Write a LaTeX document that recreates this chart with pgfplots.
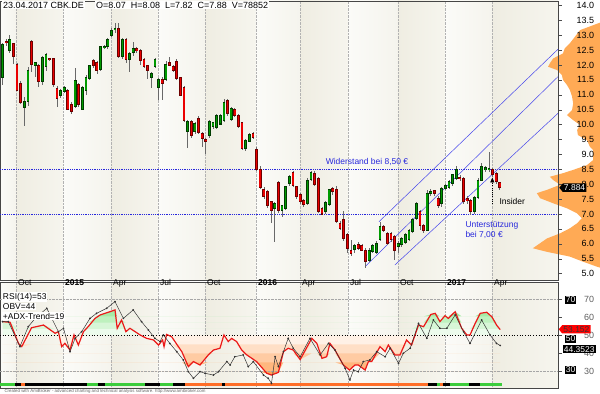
\documentclass[border=0pt]{standalone}
\usepackage{fontspec}
\setmainfont{Liberation Sans}
\usepackage{pgfplots}
\pgfplotsset{compat=1.18}
\usepackage{pgfplotstable}
\usepgfplotslibrary{fillbetween}
\usetikzlibrary{arrows.meta,shapes.symbols}

\definecolor{bandA}{RGB}{239,237,226}
\definecolor{bandAr}{RGB}{246,245,238}
\definecolor{bandB}{RGB}{251,251,248}
\definecolor{bandBr}{RGB}{245,244,237}
\definecolor{upc}{RGB}{0,155,0}
\definecolor{upo}{RGB}{0,60,0}
\definecolor{dnc}{RGB}{235,0,0}
\definecolor{dno}{RGB}{110,0,0}
\definecolor{wick}{RGB}{105,105,105}
\definecolor{chan}{RGB}{70,70,235}
\definecolor{lvl}{RGB}{40,40,220}
\definecolor{prof}{RGB}{255,170,85}
\definecolor{rsired}{RGB}{235,25,25}
\definecolor{orfill}{RGB}{255,140,50}
\definecolor{grfill}{RGB}{120,225,120}
\definecolor{adxg}{RGB}{60,205,60}
\definecolor{adxo}{RGB}{255,110,40}

\pgfplotstableread{
i O H L C
0 11.57 12.73 11.33 12.69
1 12.80 12.86 12.65 12.76
2 12.50 13.00 12.40 12.86
3 12.73 12.75 12.03 12.28
4 12.03 12.08 11.14 11.14
5 11.39 11.45 10.70 10.74
6 10.58 10.94 9.95 10.77
7 10.77 11.94 10.62 11.81
8 12.78 12.84 11.78 12.03
9 11.99 12.10 11.61 12.08
10 11.98 12.05 11.25 11.43
11 11.43 12.30 11.33 12.26
12 11.94 12.41 11.80 12.34
13 12.22 12.25 12.15 12.19
14 12.22 12.25 11.25 11.36
15 11.22 11.30 10.60 10.88
16 10.96 11.20 10.90 11.14
17 11.10 11.30 11.05 11.23
18 11.16 11.20 10.50 10.51
19 10.69 10.75 10.36 10.43
20 10.62 11.89 10.55 11.47
21 11.33 11.40 10.60 10.69
22 10.51 11.30 10.48 11.26
23 11.16 11.65 11.00 11.59
24 11.55 12.00 11.50 11.99
25 12.14 12.20 11.90 11.98
26 12.08 12.12 11.70 11.83
27 11.86 12.65 11.80 12.61
28 12.60 12.66 12.55 12.62
29 12.61 12.90 12.55 12.84
30 12.98 13.23 12.95 13.15
31 13.20 13.40 13.06 13.22
32 13.21 13.42 12.25 12.28
33 12.28 12.90 12.20 12.84
34 12.84 12.90 12.08 12.19
35 12.20 12.45 11.78 12.37
36 12.42 12.78 12.30 12.57
37 12.56 12.60 12.40 12.48
38 12.50 12.55 12.00 12.14
39 12.17 12.25 11.90 11.94
40 11.97 12.00 11.52 11.80
41 11.59 11.75 11.22 11.70
42 11.94 12.25 11.90 12.19
43 11.25 11.55 10.83 11.52
44 11.52 11.60 10.83 11.39
45 11.52 12.13 11.45 12.02
46 12.08 12.28 11.95 12.00
47 11.94 12.00 11.75 11.81
48 12.11 12.20 11.50 11.55
49 11.57 11.60 10.95 10.99
50 11.25 11.30 10.10 10.15
51 9.76 10.15 9.20 10.09
52 10.09 10.15 9.55 9.65
53 9.76 10.10 9.70 10.04
54 10.21 10.30 9.70 9.73
55 9.71 9.75 9.26 9.54
56 9.51 9.55 9.00 9.43
57 9.62 10.15 9.55 10.09
58 9.93 10.10 9.85 10.06
59 9.91 10.35 9.85 10.29
60 10.02 10.36 9.98 10.32
61 10.15 10.85 10.10 10.74
62 10.81 10.85 10.30 10.38
63 10.18 10.60 10.12 10.55
64 10.51 10.55 10.25 10.32
65 10.32 10.35 9.90 9.95
66 10.06 10.10 9.15 9.20
67 9.20 9.52 9.10 9.48
68 9.43 9.72 9.40 9.68
69 9.71 9.75 9.52 9.57
70 9.15 9.26 8.45 8.48
71 8.48 8.60 7.85 7.90
72 7.83 7.90 7.50 7.60
73 7.75 7.80 7.20 7.30
74 7.41 7.45 6.70 7.11
75 7.17 7.40 6.07 7.36
76 8.05 8.10 7.05 7.11
77 7.13 7.30 6.90 7.27
78 7.20 7.95 7.15 7.92
79 8.01 8.30 7.95 8.25
80 8.40 8.45 7.90 7.97
81 7.92 7.95 7.50 7.58
82 7.64 7.70 7.35 7.41
83 7.44 7.50 7.25 7.33
84 7.36 8.20 7.30 8.13
85 8.16 8.45 8.10 8.40
86 8.37 8.45 7.95 8.00
87 8.20 8.25 7.05 7.08
88 7.19 7.25 6.95 7.00
89 7.08 7.42 7.00 7.38
90 7.33 7.85 7.28 7.81
91 7.85 7.90 7.65 7.75
92 7.81 7.95 6.70 6.75
93 6.69 6.75 6.45 6.52
94 6.83 7.10 6.10 6.18
95 6.30 6.35 5.70 5.85
96 5.79 6.13 5.60 5.68
97 5.82 6.00 5.70 5.93
98 5.96 6.05 5.80 5.85
99 5.93 6.00 5.75 5.79
100 5.79 5.85 5.20 5.40
101 5.45 5.85 5.40 5.79
102 5.74 5.98 5.70 5.93
103 5.70 6.10 5.65 6.02
104 6.13 6.74 6.10 6.57
105 6.57 6.62 6.40 6.46
106 6.35 6.40 5.95 6.02
107 6.33 6.38 6.05 6.13
108 6.24 6.30 5.45 5.79
109 5.90 6.08 5.70 6.02
110 5.96 6.22 5.90 6.18
111 6.04 6.35 6.00 6.30
112 6.13 6.50 6.08 6.45
113 6.40 6.85 6.35 6.80
114 6.86 7.40 6.80 7.36
115 7.08 7.15 6.46 6.63
116 6.63 6.68 6.35 6.46
117 6.46 7.80 6.42 7.70
118 7.70 7.85 7.62 7.75
119 7.78 7.82 7.62 7.70
120 7.53 7.60 7.20 7.30
121 7.34 7.90 7.25 7.86
122 7.86 8.00 7.80 7.95
123 7.90 8.15 7.85 8.09
124 8.03 8.35 7.95 8.31
125 8.20 8.60 8.15 8.48
126 8.22 8.30 8.10 8.18
127 8.20 8.25 7.35 7.41
128 7.52 7.60 7.35 7.45
129 7.45 7.50 6.98 7.08
130 7.08 7.60 7.00 7.55
131 7.55 8.20 7.50 8.14
132 8.14 8.70 8.10 8.60
133 8.50 8.62 8.42 8.55
134 8.50 9.09 8.42 8.52
135 8.50 8.55 8.25 8.31
136 8.37 8.40 8.00 8.09
137 8.07 8.08 7.82 7.88
}\candles

\pgfplotstableread{
i v
0 57.6
2.1 57.2
4.4 45.5
5.3 43.7
8.0 54.2
11.3 55.7
14.5 51.1
15.4 52.0
16.3 43.7
17.2 45.5
18.6 41.8
19.7 50.2
20.9 44.6
22.3 52.0
23.6 54.8
25.5 59.4
26.9 61.3
29.6 63.1
31.0 64.1
31.6 53.9
32.8 58.5
34.0 52.0
35.1 53.9
37.9 50.2
39.7 48.3
41.6 47.4
43.0 44.6
44.1 47.4
44.5 43.7
45.2 50.5
46.6 49.2
49.4 40.9
51.2 32.6
52.6 35.4
54.4 33.5
56.7 39.1
58.1 41.8
59.9 42.8
61.0 50.2
62.2 46.5
63.1 48.3
64.5 46.5
65.9 41.8
67.3 39.1
70.0 35.4
72.8 28.9
74.1 27.9
76.0 29.4
77.4 40.9
78.7 42.8
80.1 41.8
82.0 36.5
85.2 48.3
86.6 45.5
88.0 37.2
89.3 38.1
90.2 45.5
91.6 41.8
93.9 33.5
95.6 30.7
97.1 33.5
98.0 33.5
99.9 30.7
100.8 35.4
101.7 35.4
104.0 43.7
105.4 40.9
106.3 44.6
108.1 39.1
109.5 39.1
111.3 47.4
112.7 44.6
114.6 55.7
116.0 54.8
118.0 61.6
119.2 62.2
120.5 57.6
121.9 60.9
122.8 59.4
124.7 63.1
126.5 53.9
127.9 50.2
128.8 50.2
130.2 56.6
131.6 62.2
133.4 62.8
134.8 60.3
136.1 55.7
137.1 53.15
}\rsi

\pgfplotstableread{
i v
0 57.6
1.6 57.6
4.8 43.7
7.1 54.8
9.0 59.4
12.2 65.0
15.4 52.0
16.8 53.9
18.6 40.9
20.0 48.3
21.8 52.0
24.1 59.4
25.9 62.2
28.7 65.0
31.0 68.7
33.3 59.4
36.0 64.1
38.3 57.6
40.2 52.9
42.0 48.3
43.4 46.5
44.3 50.2
46.1 45.5
48.0 40.9
49.8 36.3
51.2 29.8
52.6 26.1
54.4 29.8
55.8 28.9
58.1 27.9
59.5 29.8
61.8 35.4
62.7 33.5
64.0 38.1
66.3 39.1
67.7 32.6
69.1 35.4
71.9 27.9
73.2 26.1
74.1 23.3
75.1 38.1
76.0 32.6
77.4 40.9
78.7 48.3
80.1 42.8
82.0 38.1
84.7 48.3
87.5 39.1
89.8 45.5
91.6 41.8
94.4 31.6
95.7 25.2
96.7 30.7
98.0 29.8
99.4 35.4
101.2 36.3
103.1 40.9
105.4 38.1
106.8 42.8
109.1 34.4
110.4 40.0
112.3 42.8
114.6 56.6
116.9 48.3
118.7 58.5
120.5 53.9
122.4 53.9
124.7 61.3
127.0 52.0
128.8 45.5
132.0 58.5
134.3 50.2
136.1 45.5
137.1 44.35
}\obv

\newcommand\bands[2]{%
\fill[left color=bandB,right color=bandBr] (axis cs:-0.689,#1) rectangle (axis cs:3.72,#2);
\fill[left color=bandA,right color=bandAr] (axis cs:3.72,#1) rectangle (axis cs:16.67,#2);
\fill[left color=bandB,right color=bandBr] (axis cs:16.67,#1) rectangle (axis cs:29.89,#2);
\fill[left color=bandA,right color=bandAr] (axis cs:29.89,#1) rectangle (axis cs:42.84,#2);
\fill[left color=bandB,right color=bandBr] (axis cs:42.84,#1) rectangle (axis cs:55.79,#2);
\fill[left color=bandA,right color=bandAr] (axis cs:55.79,#1) rectangle (axis cs:69.83,#2);
\fill[left color=bandB,right color=bandBr] (axis cs:69.83,#1) rectangle (axis cs:81.96,#2);
\fill[left color=bandA,right color=bandAr] (axis cs:81.96,#1) rectangle (axis cs:95.18,#2);
\fill[left color=bandB,right color=bandBr] (axis cs:95.18,#1) rectangle (axis cs:108.95,#2);
\fill[left color=bandA,right color=bandAr] (axis cs:108.95,#1) rectangle (axis cs:121.9,#2);
\fill[left color=bandB,right color=bandBr] (axis cs:121.9,#1) rectangle (axis cs:134.85,#2);
\fill[left color=bandA,right color=bandAr] (axis cs:134.85,#1) rectangle (axis cs:153.03,#2);
}

% level line + clamped rsi pair for stepped gradient
\newcommand\glev[3]{%
\addplot[draw=none, forget plot, name path=L#1] coordinates {(0,#2) (137.1,#2)};
\addplot[draw=none, forget plot, name path=G#1] table[x=i, y expr={max(\thisrow{v},#2)}]{\rsi};
\addplot[fill=#3, draw=none, forget plot] fill between[of=G#1 and L#1];
}
\newcommand\olev[3]{%
\addplot[draw=none, forget plot, name path=M#1] coordinates {(0,#2) (137.1,#2)};
\addplot[draw=none, forget plot, name path=O#1] table[x=i, y expr={min(\thisrow{v},#2)}]{\rsi};
\addplot[fill=#3, draw=none, forget plot] fill between[of=O#1 and M#1];
}

\pgfplotsset{
  chartbase/.style={
    set layers, scale only axis, width=558bp, anchor=south west,
    xmin=-0.689, xmax=153.03,
    xtick={3.72,16.67,29.89,42.84,55.79,69.83,81.96,95.18,108.95,121.9,134.85},
    xtick style={draw=none},
    xmajorgrids, grid style={densely dotted, gray!60},
    yticklabel pos=right, ytick pos=right, tick align=outside,
    major tick length=3.5bp,
    ytick style={gray!60!black},
    axis line style={gray!55!black, line width=0.6bp},
    /pgf/number format/assume math mode=true,
    ticklabel style={font=\fontsize{9}{10}\selectfont},
  },
  nomark/.style={only marks, mark=*, mark size=0pt, mark options={draw=none, fill=none}, forget plot},
}

\begin{document}
\begin{tikzpicture}

% ---------------- indicator panel ----------------
\begin{axis}[chartbase,
  height=106bp, at={(0bp,6bp)},
  ymin=20.72, ymax=79.61,
  xticklabels={Oct,\textbf{2015},Apr,Jul,Oct,\textbf{2016},Apr,Jul,Oct,\textbf{2017},Apr},
  xticklabel pos=right,
  xticklabel style={anchor=north west, inner sep=1bp, xshift=1bp, font=\fontsize{8.5}{9}\selectfont},
  ytick={30,40,50,60,70},
  yticklabel style={anchor=east, xshift=36bp, text=gray!75!black},
]
\begin{pgfonlayer}{axis background}
\bands{20.72}{79.61}
\end{pgfonlayer}
\addplot[gray!70, densely dotted, forget plot] coordinates {(-0.689,70) (153.03,70)};
\addplot[gray!70, densely dotted, forget plot] coordinates {(-0.689,30) (153.03,30)};
% stepped gradient fills
\glev{a}{50}{grfill!14}
\glev{b}{53.5}{grfill!30}
\glev{c}{57}{grfill!48}
\glev{d}{60.5}{grfill!66}
\olev{a}{50}{orfill!12}
\olev{b}{45}{orfill!28}
\olev{c}{40}{orfill!45}
\olev{d}{35}{orfill!63}
\olev{e}{30}{orfill!82}
\addplot[black, dotted, line width=0.7bp, forget plot] coordinates {(-0.689,50) (153.03,50)};
\addplot[draw=rsired, line width=1.2bp] table[x=i,y=v]{\rsi};
\addplot[black!80, line width=0.5bp, mark=*, mark size=0.6bp] table[x=i,y=v]{\obv};
% ADX trend bar
\addplot[fill=adxg, draw=none] coordinates {(-0.689,21.6) (3.4,21.6) (3.4,23.3) (-0.689,23.3)};
\addplot[fill=black, draw=none] coordinates {(3.4,21.6) (5.1,21.6) (5.1,23.3) (3.4,23.3)};
\addplot[fill=adxo, draw=none] coordinates {(5.1,21.6) (6.2,21.6) (6.2,23.3) (5.1,23.3)};
\addplot[fill=black, draw=none] coordinates {(6.2,21.6) (23.3,21.6) (23.3,23.3) (6.2,23.3)};
\addplot[fill=adxg, draw=none] coordinates {(23.3,21.6) (26.3,21.6) (26.3,23.3) (23.3,23.3)};
\addplot[fill=black, draw=none] coordinates {(26.3,21.6) (28.2,21.6) (28.2,23.3) (26.3,23.3)};
\addplot[fill=adxg, draw=none] coordinates {(28.2,21.6) (39.3,21.6) (39.3,23.3) (28.2,23.3)};
\addplot[fill=black, draw=none] coordinates {(39.3,21.6) (43.4,21.6) (43.4,23.3) (39.3,23.3)};
\addplot[fill=adxg, draw=none] coordinates {(43.4,21.6) (47.0,21.6) (47.0,23.3) (43.4,23.3)};
\addplot[fill=black, draw=none] coordinates {(47.0,21.6) (50.3,21.6) (50.3,23.3) (47.0,23.3)};
\addplot[fill=adxo, draw=none] coordinates {(50.3,21.6) (60.5,21.6) (60.5,23.3) (50.3,23.3)};
\addplot[fill=black, draw=none] coordinates {(60.5,21.6) (61.3,21.6) (61.3,23.3) (60.5,23.3)};
\addplot[fill=adxo, draw=none] coordinates {(61.3,21.6) (117.2,21.6) (117.2,23.3) (61.3,23.3)};
\addplot[fill=black, draw=none] coordinates {(117.2,21.6) (119.7,21.6) (119.7,23.3) (117.2,23.3)};
\addplot[fill=adxg, draw=none] coordinates {(119.7,21.6) (120.5,21.6) (120.5,23.3) (119.7,23.3)};
\addplot[fill=adxo, draw=none] coordinates {(120.5,21.6) (121.3,21.6) (121.3,23.3) (120.5,23.3)};
\addplot[fill=black, draw=none] coordinates {(121.3,21.6) (123.3,21.6) (123.3,23.3) (121.3,23.3)};
\addplot[fill=adxg, draw=none] coordinates {(123.3,21.6) (128.5,21.6) (128.5,23.3) (123.3,23.3)};
\addplot[fill=black, draw=none] coordinates {(128.5,21.6) (131.5,21.6) (131.5,23.3) (128.5,23.3)};
\addplot[fill=adxg, draw=none] coordinates {(131.5,21.6) (137.6,21.6) (137.6,23.3) (131.5,23.3)};
\end{axis}

% ---------------- price panel ----------------
\begin{axis}[chartbase,
  height=279bp, at={(0bp,114bp)},
  ymin=4.785, ymax=14.148, clip=false,
  xticklabels={},
  ytick={5,5.5,...,14},
  yticklabel={\pgfmathprintnumber[fixed,fixed zerofill,precision=1]{\tick}},
  yticklabel style={anchor=east, xshift=36bp},
]
\begin{pgfonlayer}{axis background}
\bands{4.785}{14.148}
\end{pgfonlayer}
% volume profile
\addplot[on layer=axis background, fill=prof, draw=none, forget plot] coordinates {
(164.6,13.42) (164.1,13.40) (159.1,13.17) (157.7,12.95) (156.3,12.73) (154.9,12.56)
(154.4,12.39) (151.7,12.22) (150.8,12.06) (150.3,11.94) (152.8,11.83) (154.1,11.66)
(154.4,11.50) (155.5,11.33) (156.3,11.16) (156.9,10.94) (157.2,10.71) (156.9,10.49)
(155.5,10.32) (157.2,10.15) (159.1,9.99) (158.3,9.82) (158.5,9.65) (161.0,9.48)
(161.8,9.26) (162.7,9.15) (162.7,8.81) (161.0,8.64) (157.2,8.48) (154.4,8.37)
(150.8,8.25) (151.7,8.14) (153.6,7.98) (150.0,7.81) (147.2,7.70) (148.1,7.53)
(151.7,7.36) (155.5,7.19) (158.3,7.02) (159.6,6.86) (158.3,6.69) (156.3,6.52)
(153.6,6.35) (150.0,6.18) (148.1,6.02) (146.1,5.85) (150.0,5.73) (156.3,5.57)
(159.9,5.40) (163.8,5.23) (164.6,5.20)};
% support / resistance
\addplot[lvl, line width=0.9bp, dash pattern=on 0.9bp off 0.9bp, forget plot] coordinates {(-0.689,8.5) (153.03,8.5)};
\addplot[lvl, line width=0.9bp, dash pattern=on 0.9bp off 0.9bp, forget plot] coordinates {(-0.689,7.0) (153.03,7.0)};
% trend channel
\addplot[chan, line width=0.5bp, forget plot] coordinates {(103.7,6.74) (153.03,12.53)};
\addplot[chan, line width=0.5bp, forget plot] coordinates {(99.86,5.23) (153.03,11.61)};
\addplot[chan, line width=0.5bp, forget plot] coordinates {(108.1,5.29) (153.03,10.38)};
% wicks
\addplot[nomark,
  error bars/.cd, y dir=both, y explicit, error mark=none,
  error bar style={line width=0.7bp, draw=wick}]
  table[x=i, y expr={(\thisrow{H}+\thisrow{L})/2}, y error expr={(\thisrow{H}-\thisrow{L})/2}]{\candles};
% up bodies
\addplot[nomark,
  restrict expr to domain={\thisrow{C}-\thisrow{O}}{0:100},
  error bars/.cd, y dir=both, y explicit, error mark=none,
  error bar style={line width=2.8bp, draw=upo}]
  table[x=i, y expr={(\thisrow{O}+\thisrow{C})/2}, y error expr={abs(\thisrow{C}-\thisrow{O})/2+0.017}]{\candles};
\addplot[nomark,
  restrict expr to domain={\thisrow{C}-\thisrow{O}}{0:100},
  error bars/.cd, y dir=both, y explicit, error mark=none,
  error bar style={line width=1.5bp, draw=upc}]
  table[x=i, y expr={(\thisrow{O}+\thisrow{C})/2}, y error expr={max(abs(\thisrow{C}-\thisrow{O})/2-0.017,0.003)}]{\candles};
% down bodies
\addplot[nomark,
  restrict expr to domain={\thisrow{C}-\thisrow{O}}{-100:0},
  error bars/.cd, y dir=both, y explicit, error mark=none,
  error bar style={line width=2.8bp, draw=dno}]
  table[x=i, y expr={(\thisrow{O}+\thisrow{C})/2}, y error expr={abs(\thisrow{C}-\thisrow{O})/2+0.017}]{\candles};
\addplot[nomark,
  restrict expr to domain={\thisrow{C}-\thisrow{O}}{-100:0},
  error bars/.cd, y dir=both, y explicit, error mark=none,
  error bar style={line width=1.5bp, draw=dnc}]
  table[x=i, y expr={(\thisrow{O}+\thisrow{C})/2}, y error expr={max(abs(\thisrow{C}-\thisrow{O})/2-0.017,0.003)}]{\candles};
\end{axis}

% ---------------- annotations ----------------
\node[anchor=west, fill=white, inner sep=1bp, font=\fontsize{9}{10}\selectfont] at (2bp,389bp) {23.04.2017 CBK.DE};
\node[anchor=west, fill=white, inner sep=1bp, font=\fontsize{9}{10}\selectfont] at (95bp,389bp) {O=8.07\hspace{5bp}H=8.08\hspace{5bp}L=7.82\hspace{5bp}C=7.88\hspace{5bp}V=78852};

\node[anchor=center, text=lvl, font=\fontsize{8.5}{9}\selectfont] at (367bp,232.5bp) {Widerstand bei 8,50 €};
\node[anchor=west, text=lvl, font=\fontsize{8.5}{9}\selectfont] at (462bp,169bp) {Unterstützung};
\node[anchor=west, text=lvl, font=\fontsize{8.5}{9}\selectfont] at (462bp,159.5bp) {bei 7,00 €};
\node[anchor=west, font=\fontsize{8.5}{9}\selectfont] at (496bp,192.3bp) {Insider};
\draw[black, line width=0.6bp, dash pattern=on 1bp off 1.2bp, -{Triangle[width=4bp,length=5bp]}] (492.3bp,190bp) -- (492.3bp,216.5bp);

\node[signal, signal to=west, signal pointer angle=100, fill=black, text=white, inner sep=1.2bp, anchor=west, font=\fontsize{8.5}{9}\selectfont] at (559bp,206.3bp) {7.884};

% indicator labels
\node[anchor=west, fill=white, inner sep=0.8bp, font=\fontsize{8.5}{9}\selectfont] at (2bp,97bp) {RSI(14)=53};
\node[anchor=west, fill=white, inner sep=0.8bp, font=\fontsize{8.5}{9}\selectfont] at (2bp,87.5bp) {OBV=44};
\node[anchor=west, fill=white, inner sep=0.8bp, font=\fontsize{8.5}{9}\selectfont] at (2bp,78bp) {+ADX-Trend=19};

\node[fill=black, text=white, inner sep=1.2bp, font=\fontsize{8.5}{9}\selectfont] at (570.5bp,94.3bp) {70};
\node[fill=black, text=white, inner sep=1.2bp, font=\fontsize{8.5}{9}\selectfont] at (570.5bp,55bp) {50};
\node[fill=black, text=white, inner sep=1.2bp, font=\fontsize{8.5}{9}\selectfont] at (570.5bp,24bp) {30};
\node[signal, signal to=west, signal pointer angle=100, fill=red, text=black!80, inner sep=1.2bp, anchor=west, font=\fontsize{8.5}{9}\selectfont] at (558.5bp,64.7bp) {53.152};
\node[fill=black, text=white, inner sep=1.2bp, anchor=west, font=\fontsize{8.5}{9}\selectfont] at (562.5bp,44.7bp) {44.3523};

\node[anchor=west, text=gray!80!black, font=\fontsize{4.4}{5}\selectfont] at (1bp,2.6bp) {Created with AmiBroker - advanced charting and technical analysis software. http://www.amibroker.com};

\pgfresetboundingbox
\path[use as bounding box] (0,0) rectangle (600bp,394bp);
\end{tikzpicture}
\end{document}
